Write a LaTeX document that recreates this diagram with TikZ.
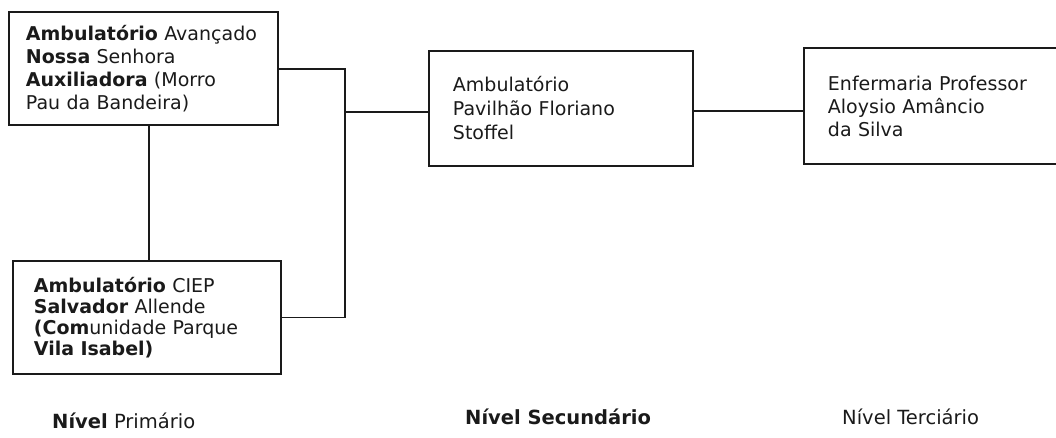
\documentclass[tikz,border=0pt]{standalone}
\usepackage{fontspec}
\setmainfont{DejaVu Sans}
\definecolor{ink}{HTML}{1A1A1A}
\begin{document}
\begin{tikzpicture}[x=1pt,y=-1pt,
  box/.style={draw=ink, line width=1.9pt, rectangle, anchor=north west, inner ysep=0pt, align=left, text=ink},
  conn/.style={draw=ink, line width=1.7pt},
  lbl/.style={anchor=base west, inner sep=0pt, text=ink, font=\fontsize{19.5}{22}\selectfont}]
\useasboundingbox (0,0) rectangle (1056,437);
\clip (0,0) rectangle (1056,437);
\node[box, minimum width=269pt, minimum height=113pt, inner xsep=17pt, text width=235pt,
      font=\fontsize{19}{23}\selectfont] (b1) at (8,11)
  {\textbf{Ambulatório} Avançado\\\textbf{Nossa} Senhora\\\textbf{Auxiliadora} (Morro\\Pau da Bandeira)};
\node[box, minimum width=268pt, minimum height=113pt, inner xsep=21pt, text width=226pt,
      font=\fontsize{19}{21}\selectfont] (b2) at (12,260)
  {\textbf{Ambulatório} CIEP\\\textbf{Salvador} Allende\\\textbf{(Com}unidade Parque\\\textbf{Vila Isabel)}};
\node[box, minimum width=264pt, minimum height=115pt, inner xsep=24pt, text width=216pt,
      font=\fontsize{19}{24}\selectfont] (b3) at (428,50)
  {Ambulatório\\Pavilhão Floriano\\Stoffel};
\node[box, minimum width=290pt, minimum height=116pt, inner xsep=24pt, text width=242pt,
      font=\fontsize{19}{23}\selectfont] (b4) at (803,47)
  {Enfermaria Professor\\Aloysio Amâncio\\da Silva};
\coordinate (j) at (345,69);
\coordinate (k) at (345,112);
\coordinate (v) at (149,0);
\draw[conn] (b1.south -| v) -- (b2.north -| v);
\draw[conn] (b1.east |- j) -- (j) -- (j |- b2.east) -- (b2.east);
\draw[conn] (k) -- (k -| b3.west);
\draw[conn] (b3.east |- 0,111) -- (b4.west |- 0,111);
\node[lbl] (l1) at (52,428) {\textbf{Nível} Primário};
\node[lbl] (l2) at (465,424) {\textbf{Nível Secundário}};
\node[lbl] (l3) at (842,424) {Nível Terciário};
\end{tikzpicture}
\end{document}
